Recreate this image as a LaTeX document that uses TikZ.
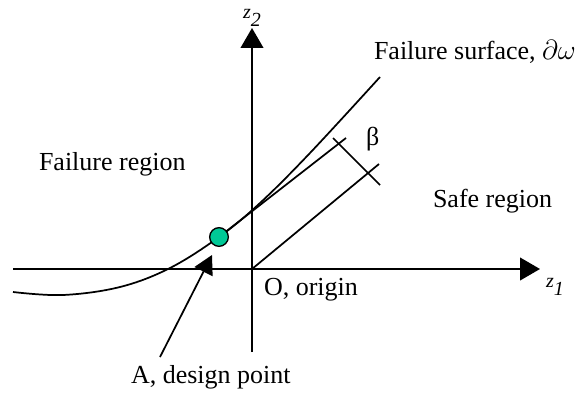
\documentclass[tikz,border=0pt]{standalone}
\usepackage{fontspec}
\setmainfont{Liberation Serif}
\usetikzlibrary{arrows.meta,calc}
\definecolor{dotgreen}{HTML}{00C896}
\begin{document}
\begin{tikzpicture}[x=0.75pt,y=-0.75pt, line width=1.5pt,
  lbl/.style={anchor=base west, inner sep=0pt, font=\fontsize{19.5}{22}\selectfont},
  axlbl/.style={anchor=base west, inner sep=0pt, font=\fontsize{15}{17}\selectfont\itshape},
  axarrow/.style={-{Triangle[length=15pt,width=17pt]}},
  ptarrow/.style={-{Triangle[length=14pt,width=15pt]}},
  thin line/.style={line width=1.3pt}]
\useasboundingbox (0,0) rectangle (580,392);
% key points
\coordinate (O) at (252,269);
\coordinate (xs) at (13,269);
\coordinate (xe) at (540,269);
\coordinate (ys) at (252,352);
\coordinate (ye) at (252,28);
\coordinate (A) at (219,237);
\coordinate (U) at (339,144);
\coordinate (L) at (368,173);
\coordinate (Uext) at (346,138);
\coordinate (Uback) at (333,138);
\coordinate (Lext) at (379,164);
\coordinate (Lback) at (380,185);
\coordinate (Afoot) at (160,357);
\coordinate (Atip) at (212,255);
% axes
\draw[axarrow] (xs) -- (xe);
\draw[axarrow] (ys) -- (ye);
% failure surface
\draw[thin line] plot[smooth, tension=0.6] coordinates
  {(13,292) (63,295) (120,287) (170,268) (219,237) (260,203) (310,153) (380,77)};
% lines
\draw[thin line] (A) -- (Uext);
\draw[thin line] (O) -- (Lext);
\draw[thin line] (Uback) -- (Lback);
% design point arrow
\draw[thin line, ptarrow] (Afoot) -- (Atip);
% design point dot
\node[circle, draw=black, line width=1pt, fill=dotgreen, minimum size=14pt, inner sep=0pt] (dot) at (A) {};
% labels
\node[axlbl] (z2) at (242,19) {z\raisebox{-6pt}{2}};
\node[axlbl] (z1) at (545,287) {z\raisebox{-6pt}{1}};
\node[lbl] (fr) at (38,170) {Failure region};
\node[lbl] (sr) at (432,207) {Safe region};
\node[lbl] (oo) at (263,295) {O, origin};
\node[lbl] (ad) at (130,383) {A, design point};
\node[lbl] (fs) at (373,60) {Failure surface, $\partial\omega$};
\node[lbl] (beta) at (365,145) {β};
\end{tikzpicture}
\end{document}
